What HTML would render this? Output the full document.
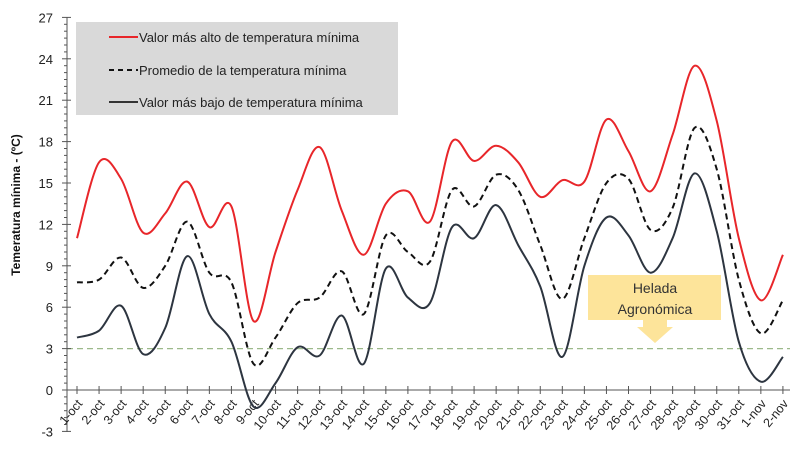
<!DOCTYPE html>
<html><head><meta charset="utf-8"><style>
body{margin:0;background:#fff;width:800px;height:450px;overflow:hidden;font-family:"Liberation Sans",sans-serif}
</style></head><body>
<svg id="s" width="800" height="450" xmlns="http://www.w3.org/2000/svg" font-family="Liberation Sans, sans-serif">
<rect x="76" y="22" width="322" height="93" fill="#d9d9d9"/>
<line x1="109" y1="37" x2="138" y2="37" stroke="#e8262a" stroke-width="2"/>
<text x="139" y="42" font-size="13" fill="#222">Valor más alto de temperatura mínima</text>
<line x1="109" y1="70" x2="138" y2="70" stroke="#111" stroke-width="2" stroke-dasharray="5,4"/>
<text x="139" y="75" font-size="13" fill="#222">Promedio de la temperatura mínima</text>
<line x1="109" y1="102" x2="138" y2="102" stroke="#333" stroke-width="2"/>
<text x="139" y="107" font-size="13" fill="#222">Valor más bajo de temperatura mínima</text>
<text transform="translate(20,205) rotate(-90)" text-anchor="middle" font-size="12" font-weight="bold" fill="#111">Temeratura mínima - (ºC)</text>
<rect x="588" y="275" width="133" height="45" fill="#fde49a"/>
<text x="655" y="293" text-anchor="middle" font-size="14" fill="#333">Helada</text>
<text x="655" y="314" text-anchor="middle" font-size="14" fill="#333">Agronómica</text>
<polygon points="643,320 667,320 667,327 673,327 655,343 637,327 643,327" fill="#fde49a"/>
<line x1="67" y1="348.6" x2="790" y2="348.6" stroke="#9cb98a" stroke-width="1.3" stroke-dasharray="6,4"/>
<g id="g"></g>
</svg>
<script>
var g=document.getElementById('g'),h='';
function Y(v){return 390-13.8*v}
function X(i){return 77+i*22.06}
h+='<line x1="67" y1="17" x2="67" y2="432" stroke="#555" stroke-width="1"/>';
h+='<line x1="67" y1="390" x2="790" y2="390" stroke="#555" stroke-width="1"/>';
for(var v=-3;v<=27;v+=0.5){var y=Y(v);var maj=(Math.abs(v%3)<0.01);h+='<line x1="'+(maj?62:64)+'" y1="'+y+'" x2="'+(maj?71:67)+'" y2="'+y+'" stroke="#555"/>';if(maj)h+='<text x="53" y="'+(y+5)+'" text-anchor="end" font-size="13" fill="#222">'+v+'</text>';}
var lab=[];for(var i=1;i<=31;i++)lab.push(i+'-oct');lab.push('1-nov','2-nov');
for(var i=0;i<33;i++){var x=X(i);h+='<line x1="'+x+'" y1="386" x2="'+x+'" y2="394" stroke="#555"/>';h+='<text transform="translate('+(x+6)+',404) rotate(-50)" text-anchor="end" font-size="12.5" fill="#222">'+lab[i]+'</text>';}
function path(d){var p=d.map(function(v,i){return [X(i),Y(v)]});var s='M'+p[0][0]+','+p[0][1];for(var i=0;i<p.length-1;i++){var p0=p[i-1]||p[i],p1=p[i],p2=p[i+1],p3=p[i+2]||p2;var c1x=p1[0]+(p2[0]-p0[0])/6,c1y=p1[1]+(p2[1]-p0[1])/6,c2x=p2[0]-(p3[0]-p1[0])/6,c2y=p2[1]-(p3[1]-p1[1])/6;s+=' C'+c1x+','+c1y+' '+c2x+','+c2y+' '+p2[0]+','+p2[1];}return s}
var red=[11,16.5,15.3,11.4,12.8,15.1,11.8,13.3,5,10,14.5,17.6,13,9.8,13.5,14.4,12.2,18,16.6,17.7,16.5,14,15.2,15.1,19.6,17.3,14.4,18.5,23.5,19.5,11,6.5,9.8];
var avg=[7.8,8,9.6,7.4,9,12.2,8.5,7.8,1.9,3.8,6.3,6.7,8.6,5.5,11.2,10,9.3,14.5,13.3,15.6,14.5,10.5,6.6,11,15,15.3,11.6,13.2,19,16,8,4.1,6.5];
var low=[3.8,4.3,6.1,2.6,4.5,9.7,5.5,3.5,-1.2,0.5,3.1,2.5,5.4,1.9,8.8,6.7,6.3,11.8,11,13.4,10.5,7.5,2.4,9,12.5,11.2,8.5,11,15.7,11.5,3.5,0.6,2.4];
h+='<path d="'+path(low)+'" fill="none" stroke="#2d3540" stroke-width="2"/>';
h+='<path d="'+path(avg)+'" fill="none" stroke="#111" stroke-width="2" stroke-dasharray="6,4"/>';
h+='<path d="'+path(red)+'" fill="none" stroke="#e8262a" stroke-width="2"/>';
g.innerHTML=h;
</script>
</body></html>
